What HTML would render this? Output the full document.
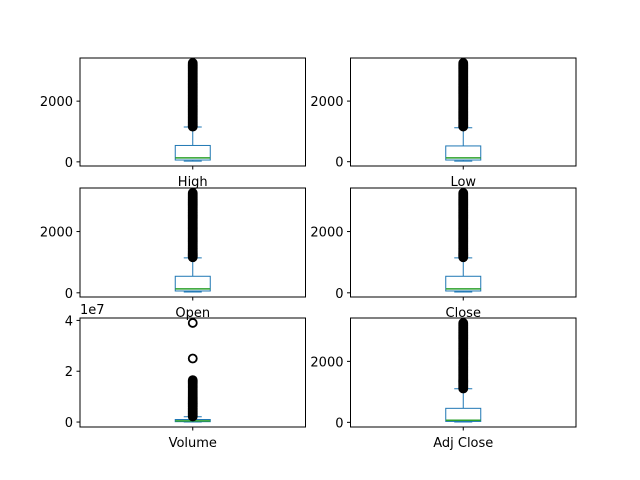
<!DOCTYPE html>
<html><head><meta charset="utf-8"><style>
html,body{margin:0;padding:0;background:#fff;}
svg{display:block;font-family:"DejaVu Sans","Liberation Sans",sans-serif;}
</style></head><body>
<svg id="chart" width="640" height="480" viewBox="0 0 640 480"></svg>
<script>
// ---- data ----
const panelNames = ["High","Low","Open","Close","Volume","Adj Close"];
const panelMins = [25,20,25,25,0,10];
const panelQ1 = [60,55,60,60,150000,30];
const panelMedians = [130,125,130,130,450000,70];
const panelQ3 = [540,520,540,540,1000000,460];
const panelWhiskerHi = [1150,1120,1140,1140,2100000,1100];
const priceOutliers = [1160,1180,1200,1225,1250,1275,1300,1325,1350,1375,1400,1425,1450,1475,1500,1525,1550,1575,1600,1625,1650,1675,1700,1725,1750,1775,1800,1825,1850,1875,1900,1925,1950,1975,2000,2025,2050,2075,2100,2125,2150,2175,2200,2225,2250,2275,2300,2325,2350,2375,2400,2425,2450,2475,2500,2525,2550,2575,2600,2625,2650,2675,2700,2725,2750,2775,2800,2825,2850,2875,2900,2925,2950,2975,3000,3025,3050,3075,3100,3125,3150,3175,3200,3230,3260];
const adjOutliers = [1110,1130,1150,1175,1200,1225,1250,1275,1300,1325,1350,1375,1400,1425,1450,1475,1500,1525,1550,1575,1600,1625,1650,1675,1700,1725,1750,1775,1800,1825,1850,1875,1900,1925,1950,1975,2000,2025,2050,2075,2100,2125,2150,2175,2200,2225,2250,2275,2300,2325,2350,2375,2400,2425,2450,2475,2500,2525,2550,2575,2600,2625,2650,2675,2700,2725,2750,2775,2800,2825,2850,2875,2900,2925,2950,2975,3000,3025,3050,3075,3100,3125,3150,3175,3200,3230,3260];
const volumeOutliers = [2200000,2500000,2800000,3100000,3400000,3700000,4000000,4300000,4600000,5000000,5300000,5600000,6000000,6300000,6600000,7000000,7300000,7600000,8000000,8400000,8800000,9200000,9600000,10000000,10400000,10800000,11200000,11600000,12000000,12500000,13000000,13500000,14000000,14500000,15000000,15500000,16000000,16500000,25000000,39000000];
const panelOutliers = [priceOutliers,priceOutliers,priceOutliers,priceOutliers,volumeOutliers,adjOutliers];
const priceTicks = [0,2000];
const volumeTicks = [0,20000000,40000000];
const volumeTickLabels = ["0","2","4"];
// ---- layout ----
const svg = document.getElementById('chart');
const NS = 'http://www.w3.org/2000/svg';
function mk(tag, attrs, parent){const e=document.createElementNS(NS,tag);for(const k in attrs)e.setAttribute(k,attrs[k]);(parent||svg).appendChild(e);return e;}
const cols=[[80,305.5],[350.5,576]];
const rows=[[58,166],[188,297],[318,427]];
for(let i=0;i<6;i++){
  const c=cols[i%2], r=rows[Math.floor(i/2)];
  const g=mk('g',{});
  
  
  const outs=panelOutliers[i];
  const dmax=Math.max(panelWhiskerHi[i],...outs), dmin=panelMins[i];
  const pad=(dmax-dmin)*0.05, lo=dmin-pad, hi=dmax+pad;
  const y=v=>r[1]-(v-lo)/(hi-lo)*(r[1]-r[0]);
  const cx=(c[0]+c[1])/2;
  const box=mk('rect',{x:cx-17.5,y:y(panelQ3[i]),width:35,height:Math.max(1,y(panelQ1[i])-y(panelQ3[i])),fill:'none',stroke:'#1f77b4','stroke-width':1},g);
   
  const w1=mk('line',{x1:cx,x2:cx,y1:y(panelQ3[i]),y2:y(panelWhiskerHi[i]),stroke:'#1f77b4'},g);
   
  const w2=mk('line',{x1:cx,x2:cx,y1:y(panelQ1[i]),y2:y(panelMins[i]),stroke:'#1f77b4'},g);
   
  const cap1=mk('line',{x1:cx-9,x2:cx+9,y1:y(panelWhiskerHi[i]),y2:y(panelWhiskerHi[i]),stroke:'#1f77b4'},g);
   
  const cap2=mk('line',{x1:cx-9,x2:cx+9,y1:y(panelMins[i]),y2:y(panelMins[i]),stroke:'#1f77b4'},g);
   
  const med=mk('line',{x1:cx-17.5,x2:cx+17.5,y1:y(panelMedians[i]),y2:y(panelMedians[i]),stroke:'#2ca02c','stroke-width':1.5},g);
   
  outs.forEach(v=>{
    const o=mk('circle',{cx:cx,cy:y(v),r:4,fill:'none',stroke:'#000','stroke-width':1.8},g);
     
  });
  const f=mk('rect',{x:c[0],y:r[0],width:c[1]-c[0],height:r[1]-r[0],fill:'none',stroke:'#000','stroke-width':1},g);
   
  const ticks=i===4?volumeTicks:priceTicks;
  ticks.forEach((t,k)=>{
    const ty=y(t);
    mk('line',{x1:c[0]-3.5,x2:c[0],y1:ty,y2:ty,stroke:'#000'},g);
    const tl=mk('text',{x:c[0]-7,y:ty+5,'text-anchor':'end','font-size':13,fill:'#000'},g);
    tl.textContent=i===4?volumeTickLabels[k]:String(t);
     
  });
  mk('line',{x1:cx,x2:cx,y1:r[1],y2:r[1]+3.5,stroke:'#000'},g);
  const xl=mk('text',{x:cx,y:r[1]+20,'text-anchor':'middle','font-size':13,fill:'#000'},g);
  xl.textContent=panelNames[i];
   
  if(i===4){
    const off=mk('text',{x:c[0],y:r[0]-4,'font-size':13,fill:'#000'},g);
    off.textContent='1e7';
     
  }
}
</script>
</body></html>
